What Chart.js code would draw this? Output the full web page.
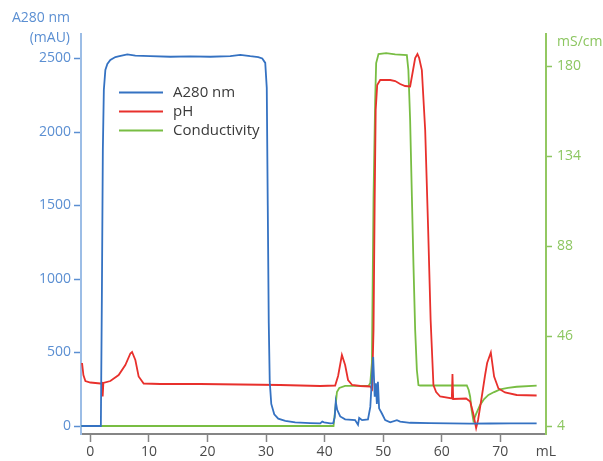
<!DOCTYPE html>
<html>
<head>
<meta charset="utf-8">
<script src="https://cdn.jsdelivr.net/npm/chart.js@4.4.1/dist/chart.umd.min.js"></script>
<style>
html,body{margin:0;padding:0;background:#fff;}
#wrap{width:603px;height:461px;position:relative;}
</style>
</head>
<body>
<div id="wrap"><canvas id="c"></canvas></div>
<script>
// ---- data ----
const a280Volume = [-1.54,1.79,1.96,2.13,2.30,2.56,2.90,3.41,4.27,4.78,6.31,7.68,10.24,13.65,17.06,20.48,23.89,25.6,27.3,28.67,29.35,29.86,30.12,30.29,30.46,30.63,30.89,31.4,32.08,33.28,34.98,37.54,39.25,39.6,39.9,40.96,41.47,41.72,41.9,42.15,42.66,43.5,45.2,45.7,45.9,46.4,47.4,47.8,48.04,48.29,48.55,48.75,48.92,49.1,49.3,49.78,50.34,51.2,52.34,52.9,54.6,58.0,61.4,64.8,68.3,71.7,76.2];
const a280Values = [0,0,857,1878,2286,2422,2463,2490,2510,2515,2528,2520,2516,2512,2514,2512,2516,2525,2516,2510,2500,2470,2300,1500,700,300,150,80,50,35,25,20,18,30,25,18,20,60,165,110,65,45,40,8,55,40,45,130,300,470,200,290,150,300,120,85,40,25,40,30,22,20,18,16,17,18,18];

const phVolume = [-1.42,-1.19,-0.85,0,1.71,2.01,2.10,2.22,3.41,4.83,5.97,6.83,7.12,7.68,8.24,9.10,11.95,18.77,25.6,32.4,39.25,41.8,42.3,42.95,43.5,44.0,44.7,46.1,47.8,48.1,48.35,48.55,48.72,48.98,49.49,51.2,52.05,52.9,53.75,54.6,55.1,55.46,55.85,56.14,56.6,57.17,57.68,58.1,58.58,59.04,59.73,61.72,61.83,61.95,64.16,64.85,65.36,65.87,66.2,66.84,67.4,67.75,68.38,68.94,69.68,70.8,72.8,76.2];
const phValues = [5.42,5.18,5.06,5.03,5.01,5.02,4.75,5.02,5.06,5.18,5.38,5.61,5.64,5.48,5.15,5.01,5.00,5.00,4.99,4.98,4.96,4.97,5.16,5.58,5.38,5.08,4.98,4.96,4.95,4.90,6.08,8.68,10.48,10.98,11.08,11.08,11.06,11.00,10.96,10.95,11.28,11.52,11.60,11.52,11.28,10.08,8.08,6.28,4.98,4.84,4.75,4.71,5.20,4.70,4.71,4.65,4.42,4.12,4.28,4.75,5.18,5.42,5.63,5.15,4.91,4.83,4.78,4.77];

const condVolume = [-1.54,41.52,41.8,42.1,42.5,43.5,47.5,47.8,48.07,48.35,48.63,48.8,49.2,50.5,52.05,54.04,54.3,54.6,54.9,55.17,55.46,55.75,56.02,56.3,64.28,64.6,64.85,65.1,65.41,65.87,66.55,67.24,67.97,68.94,69.97,71.3,72.8,76.2];
const condValues = [4.0,4.0,11.8,20.6,22.6,23.6,23.6,25.0,34.8,116.1,163.4,181.5,185.9,186.3,185.7,185.4,178.1,153.6,116.1,82.7,50.9,31.4,24.0,23.8,23.8,21.6,18.3,11.8,6.6,9.9,14.3,17.2,19.2,20.6,21.9,22.6,23.2,23.7];

const volumeTicks = [0,10,20,30,40,50,60,70];
const volumeUnitLabel = 'mL';
const a280Ticks = [0,500,1000,1500,2000,2500];
const condTickValues = [4,48,92,136,180];
const condTickLabels = ['4','46','88','134','180'];
const seriesNames = ['A280 nm','pH','Conductivity'];

// ---- styling ----
const BLUE = '#3572c2', RED = '#e8302c', GREEN = '#78bd43';
const BLUE_AX = '#5b8fd2', BLUE_AXLINE = '#9cbde6';
const GREEN_AX = '#8cc660', GREEN_AXLINE = '#93c862';
const GRAY = '#858585', TXT = '#4a4a4a';
const FONT = "'Open Sans', 'Noto Sans', sans-serif";

const zip = (xs, ys) => xs.map((x, i) => ({x: x, y: ys[i]}));

const X_MIN = -1.6, X_MAX = 77.8;

const annotate = {
  id: 'annotate',
  afterDraw(chart) {
    const ctx = chart.ctx;
    ctx.save();
    ctx.font = '14px ' + FONT;
    ctx.textBaseline = 'middle';
    ctx.fillStyle = BLUE_AX;
    ctx.textAlign = 'right';
    ctx.fillText('A280 nm', 70, 18);
    ctx.fillText('(mAU)', 70, 38);
    ctx.fillStyle = GREEN_AX;
    ctx.textAlign = 'left';
    ctx.fillText('mS/cm', 557, 42);
    // legend
    const cols = [BLUE, RED, GREEN];
    const ys = [92.5, 111.5, 130.5];
    ctx.font = '15px ' + FONT;
    ctx.lineWidth = 2;
    seriesNames.forEach((n, i) => {
      ctx.strokeStyle = cols[i];
      ctx.beginPath();
      ctx.moveTo(119, ys[i]);
      ctx.lineTo(163, ys[i]);
      ctx.stroke();
      ctx.fillStyle = '#3a3a3a';
      ctx.fillText(n, 173, ys[i] + 0.5);
    });
    ctx.restore();
  }
};

new Chart(document.getElementById('c'), {
  type: 'line',
  data: {
    datasets: [
      {label: seriesNames[0], data: zip(a280Volume, a280Values), borderColor: BLUE, yAxisID: 'y', borderWidth: 1.8, pointRadius: 0, tension: 0, clip: 8},
      {label: seriesNames[1], data: zip(phVolume, phValues), borderColor: RED, yAxisID: 'yPH', borderWidth: 1.8, pointRadius: 0, tension: 0, clip: 8},
      {label: seriesNames[2], data: zip(condVolume, condValues), borderColor: GREEN, yAxisID: 'y2', borderWidth: 1.8, pointRadius: 0, tension: 0, clip: 8}
    ]
  },
  options: {
    responsive: true,
    maintainAspectRatio: false,
    animation: false,
    devicePixelRatio: 1,
    layout: {padding: {top: 34, left: 0, right: 0, bottom: 0}},
    plugins: {legend: {display: false}, tooltip: {enabled: false}},
    scales: {
      x: {
        type: 'linear', min: X_MIN, max: X_MAX,
        afterBuildTicks: s => { s.ticks = volumeTicks.map(v => ({value: v})).concat([{value: X_MAX}]); },
        afterFit: s => { s.height = 27; },
        border: {display: true, color: GRAY, width: 2},
        grid: {display: true, drawOnChartArea: false, tickLength: 8, tickWidth: 1.5,
               tickColor: c => (c.tick && c.tick.value > 75) ? 'rgba(0,0,0,0)' : GRAY},
        ticks: {color: TXT, font: {family: FONT, size: 14}, padding: 2, maxRotation: 0, autoSkip: false,
                callback: v => v > 75 ? volumeUnitLabel : String(v)}
      },
      y: {
        type: 'linear', position: 'left', min: -54.4, max: 2666.7,
        afterBuildTicks: s => { s.ticks = a280Ticks.map(v => ({value: v})); },
        afterFit: s => { s.width = 81; },
        border: {display: true, color: BLUE_AXLINE, width: 2},
        grid: {display: true, drawOnChartArea: false, tickLength: 7, tickWidth: 1.5, tickColor: BLUE_AX},
        ticks: {color: BLUE_AX, font: {family: FONT, size: 14}, padding: 3, callback: v => String(v)}
      },
      y2: {
        type: 'linear', position: 'right', min: 0.09, max: 195.7,
        afterBuildTicks: s => { s.ticks = condTickValues.map(v => ({value: v})); },
        afterFit: s => { s.width = 57; },
        border: {display: true, color: GREEN_AXLINE, width: 2},
        grid: {display: true, drawOnChartArea: false, tickLength: 6, tickWidth: 1.5, tickColor: GREEN_AX},
        ticks: {color: GREEN_AX, font: {family: FONT, size: 14}, padding: 5,
                callback: (v, i) => condTickLabels[i]}
      },
      yPH: {type: 'linear', display: false, min: 4, max: 12}
    }
  },
  plugins: [annotate]
});
</script>
</body>
</html>
